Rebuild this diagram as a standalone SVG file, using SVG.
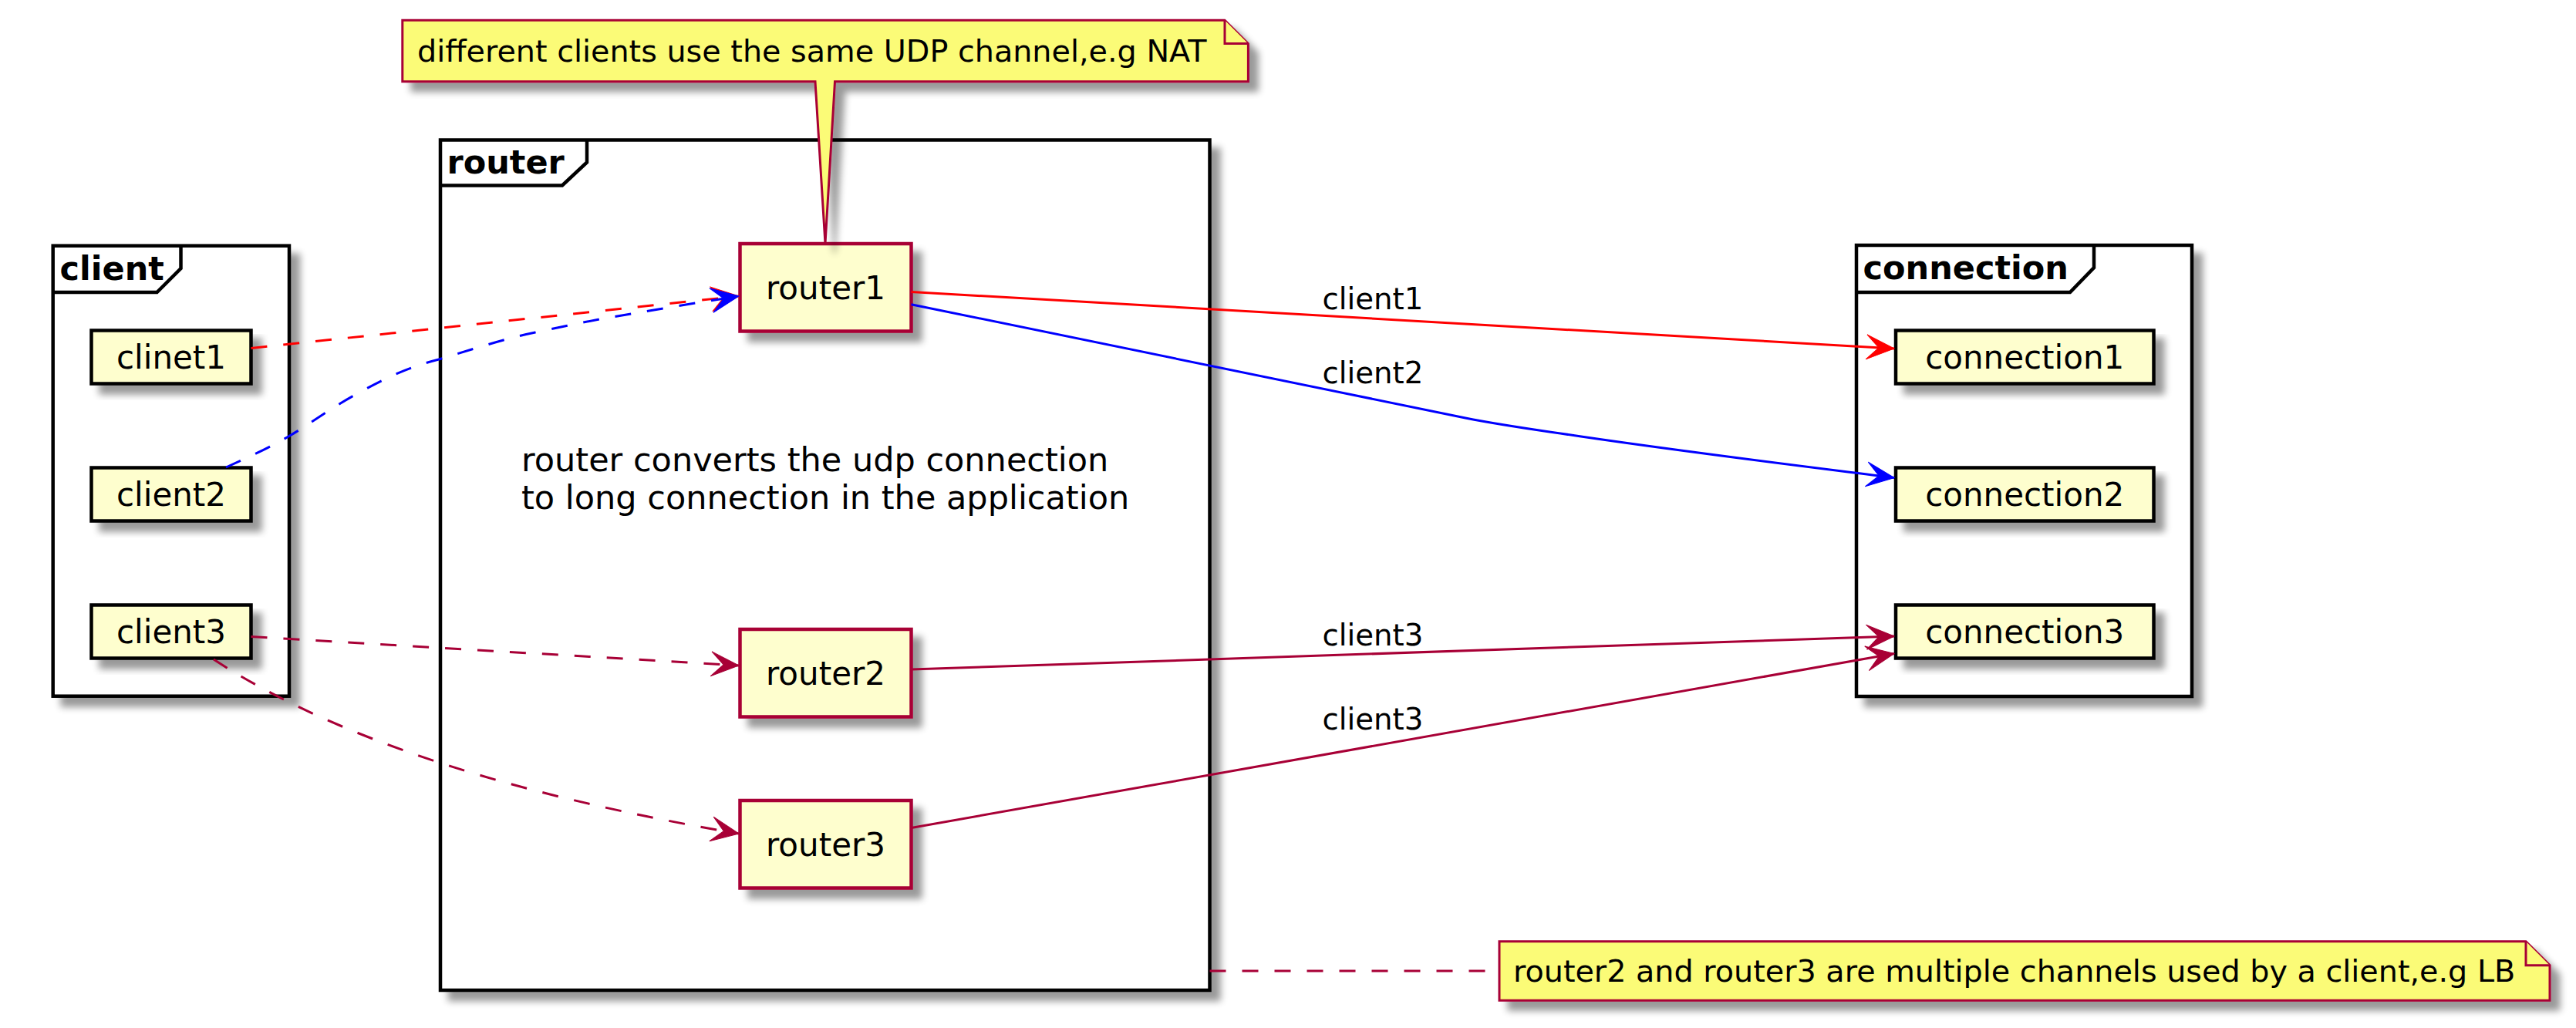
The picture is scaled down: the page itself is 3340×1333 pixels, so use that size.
<svg xmlns="http://www.w3.org/2000/svg" width="3340" height="1333" viewBox="0 0 3340 1333">
<defs>
<style>
text{font-family:"DejaVu Sans","Liberation Sans",sans-serif;fill:#000}
.frame{fill:#fff;stroke:#000;stroke-width:4.5}
.tab{fill:none;stroke:#000;stroke-width:4.5}
.ftitle{font-size:43px;font-weight:bold}
.cnode{fill:#FEFECE;stroke:#000;stroke-width:4.5}
.rnode{fill:#FEFECE;stroke:#A80036;stroke-width:4.5}
.nlabel{font-size:42px;text-anchor:middle}
.desc{font-size:43px}
.note{fill:#FBFB77;stroke:#A80036;stroke-width:3}
.ntext{font-size:39.7px}
.elabel{font-size:38.7px}
.e{fill:none;stroke-width:3}
.dash{stroke-dasharray:21 21}
.red{stroke:#FF0000}
.blue{stroke:#0000FF}
.dr{stroke:#A80036}
</style>
<filter id="sh" x="-10%" y="-10%" width="130%" height="140%">
<feGaussianBlur in="SourceAlpha" stdDeviation="5"/>
<feOffset dx="12" dy="12"/>
<feComponentTransfer><feFuncA type="linear" slope="0.4"/></feComponentTransfer>
<feMerge><feMergeNode/><feMergeNode in="SourceGraphic"/></feMerge>
</filter>
<marker id="aRed" markerUnits="userSpaceOnUse" viewBox="-40 -20 44 40" refX="0" refY="0" markerWidth="44" markerHeight="40" orient="auto">
<path d="M0,0 L-36,-16 L-20,0 L-36,16 Z" fill="#FF0000" stroke="#FF0000" stroke-width="1" stroke-dasharray="none"/>
</marker>
<marker id="aBlue" markerUnits="userSpaceOnUse" viewBox="-40 -20 44 40" refX="0" refY="0" markerWidth="44" markerHeight="40" orient="auto">
<path d="M0,0 L-36,-16 L-20,0 L-36,16 Z" fill="#0000FF" stroke="#0000FF" stroke-width="1" stroke-dasharray="none"/>
</marker>
<marker id="aDr" markerUnits="userSpaceOnUse" viewBox="-40 -20 44 40" refX="0" refY="0" markerWidth="44" markerHeight="40" orient="auto">
<path d="M0,0 L-36,-16 L-20,0 L-36,16 Z" fill="#A80036" stroke="#A80036" stroke-width="1" stroke-dasharray="none"/>
</marker>
</defs>
<rect width="3340" height="1333" fill="#fff"/>

<g id="frame-client">
<rect class="frame" x="68.7" y="318.7" width="306.3" height="584" filter="url(#sh)"/>
<path class="tab" d="M68.7,379 L203.5,379 L234.5,348 L234.5,318.7"/>
<text class="ftitle" x="77.5" y="363">client</text>
</g>
<g id="frame-router">
<rect class="frame" x="571" y="181.5" width="997.5" height="1102.5" filter="url(#sh)"/>
<path class="tab" d="M571,240.5 L729,240.5 L761,210.5 L761,181.5"/>
<text class="ftitle" x="579.5" y="225">router</text>
<text class="desc" x="676" y="610.5">router converts the udp connection</text>
<text class="desc" x="676" y="659.5">to long connection in the application</text>
</g>
<g id="frame-connection">
<rect class="frame" x="2407" y="318" width="435" height="585" filter="url(#sh)"/>
<path class="tab" d="M2407,379 L2684,379 L2715,347 L2715,318"/>
<text class="ftitle" x="2415.5" y="362">connection</text>
</g>

<g id="clinet1"><rect class="cnode" x="118.5" y="428.5" width="207" height="69" filter="url(#sh)"/><text class="nlabel" x="222" y="478.3">clinet1</text></g>
<g id="client2"><rect class="cnode" x="118.5" y="606.5" width="207" height="69" filter="url(#sh)"/><text class="nlabel" x="222" y="656.3">client2</text></g>
<g id="client3"><rect class="cnode" x="118.5" y="784.5" width="207" height="69" filter="url(#sh)"/><text class="nlabel" x="222" y="834.3">client3</text></g>

<g id="router1"><rect class="rnode" x="959.5" y="316" width="222" height="113.5" filter="url(#sh)"/><text class="nlabel" x="1070.5" y="388">router1</text></g>
<g id="router2"><rect class="rnode" x="959.5" y="816" width="222" height="113.5" filter="url(#sh)"/><text class="nlabel" x="1070.5" y="888">router2</text></g>
<g id="router3"><rect class="rnode" x="959.5" y="1038" width="222" height="113.5" filter="url(#sh)"/><text class="nlabel" x="1070.5" y="1110">router3</text></g>

<g id="connection1"><rect class="cnode" x="2458" y="428.5" width="334.5" height="69" filter="url(#sh)"/><text class="nlabel" x="2625.2" y="478.3">connection1</text></g>
<g id="connection2"><rect class="cnode" x="2458" y="606.5" width="334.5" height="69" filter="url(#sh)"/><text class="nlabel" x="2625.2" y="656.3">connection2</text></g>
<g id="connection3"><rect class="cnode" x="2458" y="784.5" width="334.5" height="69" filter="url(#sh)"/><text class="nlabel" x="2625.2" y="834.3">connection3</text></g>

<g id="connectors">
<path class="e dash red" d="M325.5,451.5 L958,384" marker-end="url(#aRed)"/>
<path class="e dash blue" d="M293,606 C320,594 350,580 374,566 C405,548 430,528 466,509 C500,490 530,476 569,466 C610,454 650,440 694,431 C740,421 780,413 824,406 C870,398 920,390 958,384" marker-end="url(#aBlue)"/>
<path class="e dash dr" d="M325.5,825.5 L958,863" marker-end="url(#aDr)"/>
<path class="e dash dr" d="M277,855 C400,935 600,1020 958,1081" marker-end="url(#aDr)"/>
<path class="e red" d="M1181.5,378.5 L2456,452" marker-end="url(#aRed)"/>
<path class="e blue" d="M1181.5,394.7 L1900,542 C1950,552 1990,557 2050,566 C2200,588 2350,606 2456,619.5" marker-end="url(#aBlue)"/>
<path class="e dr" d="M1181.5,868 L2456,825" marker-end="url(#aDr)"/>
<path class="e dr" d="M1181.5,1073.5 L2456,847.5" marker-end="url(#aDr)"/>
<path class="e dash dr" d="M1568.5,1259 L1944,1259"/>
<text class="elabel" x="1714.5" y="400.7">client1</text>
<text class="elabel" x="1714.5" y="496.7">client2</text>
<text class="elabel" x="1714.5" y="837">client3</text>
<text class="elabel" x="1714.5" y="946">client3</text>
</g>

<g id="note-nat">
<path class="note" d="M521.8,26.3 L1588,26.3 L1618.4,56.5 L1618.4,105.7 L1082.5,105.7 L1070,316 L1057,105.7 L521.8,105.7 Z" filter="url(#sh)"/>
<path class="note" d="M1588,26.3 L1588,56.5 L1618.4,56.5"/>
<text class="ntext" x="541" y="80">different clients use the same UDP channel,e.g NAT</text>
</g>
<g id="note-lb">
<path class="note" d="M1944,1220.7 L3275,1220.7 L3306,1251.7 L3306,1297.3 L1944,1297.3 Z" filter="url(#sh)"/>
<path class="note" d="M3275,1220.7 L3275,1251.7 L3306,1251.7"/>
<text class="ntext" x="1962" y="1272.7">router2 and router3 are multiple channels used by a client,e.g LB</text>
</g>
</svg>
